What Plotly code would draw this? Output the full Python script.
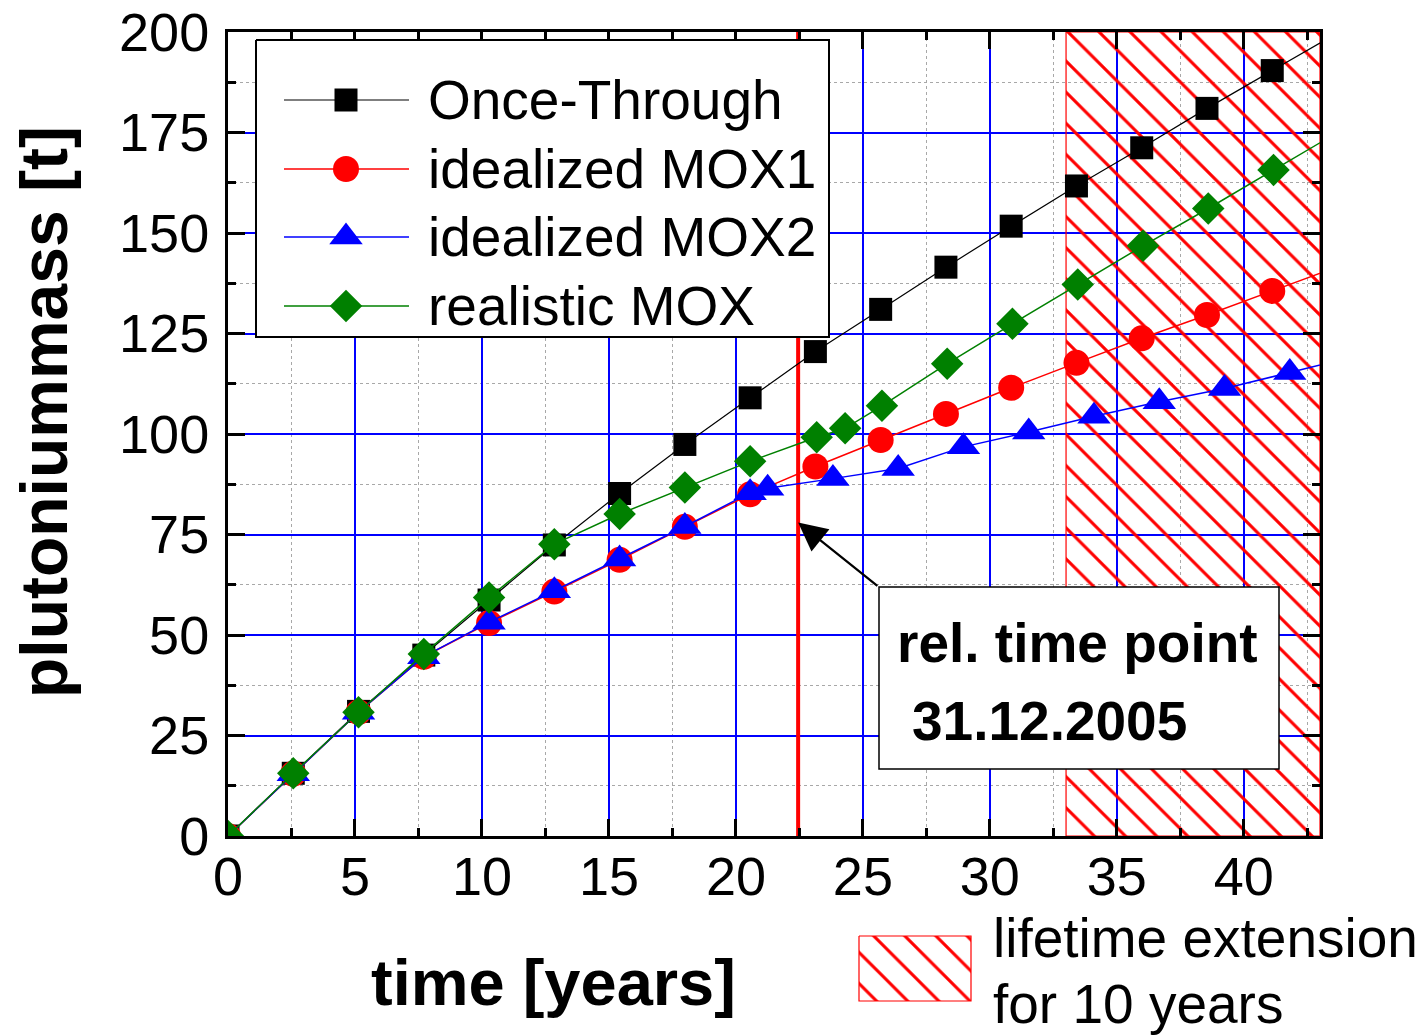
import plotly.graph_objects as go

W, H = 1427, 1036
FONT = "Liberation Sans, Arial, Helvetica, sans-serif"

# ---- data -------------------------------------------------------------
time_years = [0, 2.57, 5.14, 7.71, 10.28, 12.85, 15.42, 17.99, 20.56, 23.13,
              25.70, 28.27, 30.84, 33.41, 35.98, 38.55, 41.12, 43.69]
once_through = [0, 15.6, 31.0, 45.0, 58.7, 72.4, 85.2, 97.4, 109.0, 120.5,
                131.0, 141.5, 151.7, 161.7, 171.2, 181.0, 190.4, 199.8]
mox1 = [0, 15.5, 30.8, 44.6, 53.0, 60.8, 68.7, 76.9, 85.0, 91.9,
        98.5, 105.0, 111.5, 117.7, 123.8, 129.6, 135.6, 141.6]

time_mox2 = [0, 2.57, 5.14, 7.71, 10.28, 12.85, 15.42, 17.99, 20.56, 21.25,
             23.82, 26.39, 28.96, 31.53, 34.10, 36.67, 39.24, 41.81, 44.38]
mox2 = [0, 15.5, 30.8, 44.6, 53.2, 61.0, 68.9, 77.0, 85.4, 86.5,
        88.9, 91.4, 96.8, 100.5, 104.4, 108.0, 111.3, 115.3, 119.3]

time_realistic = [0, 2.57, 5.14, 7.71, 10.28, 12.85, 15.42, 17.99, 20.56, 23.18,
                  24.30, 25.75, 28.32, 30.89, 33.46, 36.03, 38.60, 41.17, 43.74]
realistic_mox = [0, 15.6, 30.8, 45.3, 59.3, 72.6, 80.1, 86.7, 93.2, 99.2,
                 101.4, 107.0, 117.5, 127.4, 137.2, 146.8, 156.1, 165.7, 175.2]

series_names = ["Once-Through", "idealized MOX1", "idealized MOX2", "realistic MOX"]

x_range = [0, 43]
y_range = [0, 200]
x_ticks = [0, 5, 10, 15, 20, 25, 30, 35, 40]
y_ticks = [0, 25, 50, 75, 100, 125, 150, 175, 200]

reference_time = 22.45          # 31.12.2005
extension_start, extension_end = 33, 43   # lifetime extension for 10 years
arrow_tip = (reference_time, 78)
arrow_tail = (25.63, 61.9)

# ---- styles -----------------------------------------------------------
styles = [
    dict(color="black", symbol="square", size=23, width=1.2),
    dict(color="#ff0000", symbol="circle", size=26, width=1.5),
    dict(color="#0000ff", symbol="triangle-up", size=29, width=1.5),
    dict(color="#008000", symbol="diamond", size=25, width=1.5),
]
xs = [time_years, time_years, time_mox2, time_realistic]
ys = [once_through, mox1, mox2, realistic_mox]

# plot-area placement in pixels
PL, PR, PT, PB = 228, 1320, 32, 836

fig = go.Figure()

# hatched lifetime-extension band
hatch = dict(shape="\\", fgcolor="#ff0000", fgopacity=1, bgcolor="rgba(0,0,0,0)",
             size=22, solidity=0.14, fillmode="overlay")
fig.add_trace(go.Scatter(
    x=[extension_start, extension_end, extension_end, extension_start, extension_start],
    y=[y_range[0], y_range[0], y_range[1], y_range[1], y_range[0]],
    mode="lines", fill="toself", fillcolor="rgba(0,0,0,0)", fillpattern=hatch,
    line=dict(color="#ff0000", width=1.2), hoverinfo="skip", showlegend=False))

# reference time point
fig.add_trace(go.Scatter(
    x=[reference_time, reference_time], y=y_range, mode="lines",
    line=dict(color="#ff0000", width=4), hoverinfo="skip", showlegend=False))

for name, x, y, st in zip(series_names, xs, ys, styles):
    fig.add_trace(go.Scatter(
        x=x, y=y, name=name, mode="lines+markers",
        line=dict(color=st["color"], width=st["width"]),
        marker=dict(color=st["color"], symbol=st["symbol"], size=st["size"],
                    line=dict(width=0)),
        showlegend=False))

# ---- key (drawn on a full-page overlay in pixel units) ----------------
key_box = dict(x0=256, x1=829, y0=40, y1=337)
key_rows = [100, 169, 237, 306]
key_line = (284, 409)
key_marker_x = 346
key_text_x = 426

fig.add_trace(go.Scatter(
    x=[key_box["x0"], key_box["x1"], key_box["x1"], key_box["x0"], key_box["x0"]],
    y=[key_box["y0"], key_box["y0"], key_box["y1"], key_box["y1"], key_box["y0"]],
    xaxis="x2", yaxis="y2", mode="lines", fill="toself", fillcolor="white",
    line=dict(color="black", width=2), hoverinfo="skip", showlegend=False))

annotations = []
for name, ry, st in zip(series_names, key_rows, styles):
    fig.add_trace(go.Scatter(
        x=list(key_line), y=[ry, ry], xaxis="x2", yaxis="y2", mode="lines",
        line=dict(color=st["color"], width=st["width"]),
        hoverinfo="skip", showlegend=False))
    fig.add_trace(go.Scatter(
        x=[key_marker_x], y=[ry], xaxis="x2", yaxis="y2", mode="markers",
        marker=dict(color=st["color"], symbol=st["symbol"], size=st["size"],
                    line=dict(width=0)),
        hoverinfo="skip", showlegend=False))
    annotations.append(dict(
        x=key_text_x, y=ry, xref="x2", yref="y2", text=name, showarrow=False,
        xanchor="left", yanchor="middle", font=dict(family=FONT, size=55, color="black")))

# hatched key sample below the plot
sx0, sx1, sy0, sy1 = 859, 971, 936, 1001
fig.add_trace(go.Scatter(
    x=[sx0, sx1, sx1, sx0, sx0], y=[sy0, sy0, sy1, sy1, sy0],
    xaxis="x2", yaxis="y2", mode="lines", fill="toself", fillcolor="rgba(0,0,0,0)",
    fillpattern=hatch, line=dict(color="#ff0000", width=1.2),
    hoverinfo="skip", showlegend=False))
annotations.append(dict(x=991, y=938, xref="x2", yref="y2", text="lifetime extension",
                        showarrow=False, xanchor="left", yanchor="middle",
                        font=dict(family=FONT, size=55, color="black")))
annotations.append(dict(x=991, y=1004, xref="x2", yref="y2", text="for 10 years",
                        showarrow=False, xanchor="left", yanchor="middle",
                        font=dict(family=FONT, size=55, color="black")))

# axis titles
annotations.append(dict(x=553, y=982, xref="x2", yref="y2", text="<b>time [years]</b>",
                        showarrow=False, xanchor="center", yanchor="middle",
                        font=dict(family=FONT, size=65, color="black")))
annotations.append(dict(x=44, y=412, xref="x2", yref="y2", text="<b>plutoniummass [t]</b>",
                        showarrow=False, xanchor="center", yanchor="middle", textangle=-90,
                        font=dict(family=FONT, size=66, color="black")))

# callout for the reference time point: arrow, framed box, two text lines
annotations.append(dict(
    x=arrow_tip[0], y=arrow_tip[1], xref="x", yref="y",
    ax=arrow_tail[0], ay=arrow_tail[1], axref="x", ayref="y",
    text="", showarrow=True, arrowhead=2, arrowsize=2.6, arrowwidth=2.2,
    arrowcolor="black", standoff=0, startstandoff=0))
annotations.append(dict(x=895, y=643, xref="x2", yref="y2", text="<b>rel. time point</b>",
                        showarrow=False, xanchor="left", yanchor="middle",
                        font=dict(family=FONT, size=55, color="black")))
annotations.append(dict(x=910, y=721, xref="x2", yref="y2", text="<b>31.12.2005</b>",
                        showarrow=False, xanchor="left", yanchor="middle",
                        font=dict(family=FONT, size=55, color="black")))
shapes = [dict(type="rect", xref="x2", yref="y2", x0=879, x1=1279, y0=587, y1=769,
               fillcolor="white", line=dict(color="black", width=1.5), layer="above")]

axis_common = dict(
    showline=True, linewidth=3, linecolor="black", mirror="allticks",
    ticks="inside", ticklen=17, tickwidth=3, tickcolor="black",
    showgrid=True, gridcolor="#0000ff", gridwidth=1.8, zeroline=False,
    automargin=False,
    tickfont=dict(family=FONT, size=54, color="black"),
)

fig.update_layout(
    width=W, height=H,
    margin=dict(l=0, r=0, t=0, b=0, autoexpand=False),
    paper_bgcolor="white", plot_bgcolor="rgba(0,0,0,0)",
    showlegend=False,
    xaxis=dict(domain=[PL / W, PR / W], range=x_range, tickvals=x_ticks,
               ticklabelstandoff=-9,
               minor=dict(dtick=2.5, ticks="inside", ticklen=8, tickwidth=2.5,
                          tickcolor="black", showgrid=True, gridcolor="#a8a8a8",
                          griddash="dot", gridwidth=1),
               anchor="y", **axis_common),
    yaxis=dict(domain=[1 - PB / H, 1 - PT / H], range=y_range, tickvals=y_ticks,
               ticklabelstandoff=5,
               minor=dict(dtick=12.5, ticks="inside", ticklen=8, tickwidth=2.5,
                          tickcolor="black", showgrid=True, gridcolor="#a8a8a8",
                          griddash="dot", gridwidth=1),
               anchor="x", **axis_common),
    xaxis2=dict(domain=[0, 1], range=[0, W], visible=False, anchor="y2", fixedrange=True),
    yaxis2=dict(domain=[0, 1], range=[H, 0], visible=False, anchor="x2", fixedrange=True),
    annotations=annotations,
    shapes=shapes,
)

fig.write_html("out.html")
